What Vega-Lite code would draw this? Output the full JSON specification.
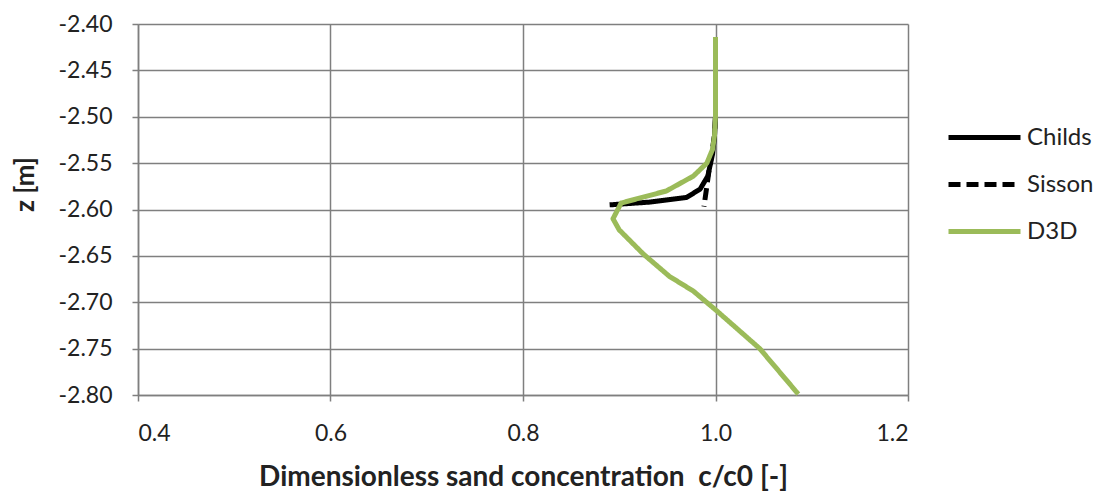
{
  "$schema": "https://vega.github.io/schema/vega-lite/v6.json",
  "autosize": "none",
  "width": 770,
  "height": 371,
  "padding": {"left": 138, "top": 24, "right": 186, "bottom": 100},
  "background": "white",
  "config": {
    "font": "Lato",
    "view": {"stroke": null}
  },
  "data": {
    "values": [
      {"series": "Childs", "i": 1, "c": 1.0, "z": -2.50},
      {"series": "Childs", "i": 2, "c": 0.999, "z": -2.52},
      {"series": "Childs", "i": 3, "c": 0.997, "z": -2.54},
      {"series": "Childs", "i": 4, "c": 0.992, "z": -2.564},
      {"series": "Childs", "i": 5, "c": 0.984, "z": -2.578},
      {"series": "Childs", "i": 6, "c": 0.970, "z": -2.587},
      {"series": "Childs", "i": 7, "c": 0.932, "z": -2.592},
      {"series": "Childs", "i": 8, "c": 0.890, "z": -2.595},
      {"series": "Sisson", "i": 1, "c": 1.0, "z": -2.50},
      {"series": "Sisson", "i": 2, "c": 0.999, "z": -2.52},
      {"series": "Sisson", "i": 3, "c": 0.996, "z": -2.54},
      {"series": "Sisson", "i": 4, "c": 0.993, "z": -2.56},
      {"series": "Sisson", "i": 5, "c": 0.991, "z": -2.575},
      {"series": "Sisson", "i": 6, "c": 0.988, "z": -2.597},
      {"series": "D3D", "i": 1, "c": 1.0, "z": -2.414},
      {"series": "D3D", "i": 2, "c": 1.0, "z": -2.45},
      {"series": "D3D", "i": 3, "c": 1.0, "z": -2.50},
      {"series": "D3D", "i": 4, "c": 0.999, "z": -2.52},
      {"series": "D3D", "i": 5, "c": 0.997, "z": -2.535},
      {"series": "D3D", "i": 6, "c": 0.991, "z": -2.550},
      {"series": "D3D", "i": 7, "c": 0.977, "z": -2.564},
      {"series": "D3D", "i": 8, "c": 0.949, "z": -2.580},
      {"series": "D3D", "i": 9, "c": 0.902, "z": -2.593},
      {"series": "D3D", "i": 10, "c": 0.8935, "z": -2.610},
      {"series": "D3D", "i": 11, "c": 0.900, "z": -2.622},
      {"series": "D3D", "i": 12, "c": 0.925, "z": -2.648},
      {"series": "D3D", "i": 13, "c": 0.952, "z": -2.672},
      {"series": "D3D", "i": 14, "c": 0.977, "z": -2.688},
      {"series": "D3D", "i": 15, "c": 1.001, "z": -2.709},
      {"series": "D3D", "i": 16, "c": 1.046, "z": -2.750},
      {"series": "D3D", "i": 17, "c": 1.086, "z": -2.799}
    ]
  },
  "mark": {"type": "line", "strokeWidth": 5, "strokeCap": "butt", "strokeJoin": "round"},
  "encoding": {
    "x": {
      "field": "c", "type": "quantitative",
      "scale": {"domain": [0.4, 1.2], "nice": false, "zero": false},
      "axis": {
        "values": [0.4, 0.6, 0.8, 1.0, 1.2], "format": ".1f",
        "title": "Dimensionless sand concentration\u00a0 c/c0 [-]",
        "titleFontSize": 28, "titleFontWeight": "bold", "titleColor": "#222222", "titlePadding": 18,
        "labelFontSize": 23, "labelColor": "#222222", "labelPadding": 21,
        "tickSize": 6, "tickColor": "#7f7f7f", "tickWidth": 1.5,
        "domainColor": "#7f7f7f", "domainWidth": 1.5,
        "gridColor": "#7f7f7f", "gridWidth": 1.5
      }
    },
    "y": {
      "field": "z", "type": "quantitative",
      "scale": {"domain": [-2.80, -2.40], "nice": false, "zero": false},
      "axis": {
        "values": [-2.80, -2.75, -2.70, -2.65, -2.60, -2.55, -2.50, -2.45, -2.40],
        "labelExpr": "'-' + format(abs(datum.value), '.2f')",
        "title": "z [m]", "titleY": 160,
        "titleFontSize": 26, "titleFontWeight": "bold", "titleColor": "#222222", "titlePadding": 20,
        "labelFontSize": 23, "labelColor": "#222222", "labelPadding": 20,
        "tickSize": 6, "tickColor": "#7f7f7f", "tickWidth": 1.5,
        "domainColor": "#7f7f7f", "domainWidth": 1.5,
        "gridColor": "#7f7f7f", "gridWidth": 1.5
      }
    },
    "color": {
      "field": "series", "type": "nominal",
      "scale": {"domain": ["Childs", "Sisson", "D3D"], "range": ["#000000", "#000000", "#9BBB59"]},
      "legend": {
        "title": null, "orient": "none", "legendX": 826, "legendY": 93,
        "symbolType": "M-2,0H2", "symbolSize": 1296, "symbolStrokeWidth": 5,
        "labelFontSize": 24, "labelColor": "#222222", "labelOffset": 22,
        "rowPadding": 14
      }
    },
    "strokeDash": {
      "field": "series", "type": "nominal",
      "scale": {"domain": ["Childs", "Sisson", "D3D"], "range": [[1, 0], [12, 6], [1, 0]]},
      "legend": null
    },
    "order": {"field": "i", "type": "quantitative"}
  }
}
